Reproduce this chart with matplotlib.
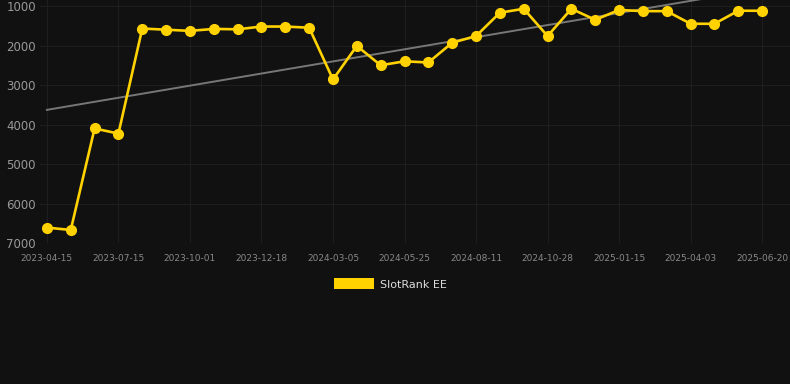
import matplotlib
matplotlib.use("Agg")
import matplotlib.pyplot as plt
from matplotlib.patches import Rectangle
import numpy as np

# rank values, one point per snapshot (evenly spaced on the axis)
ranks = [6610, 6670, 4100, 4230, 1570, 1600, 1630, 1580, 1590, 1520,
         1520, 1550, 2860, 2010, 2500, 2400, 2430, 1930, 1760, 1170,
         1070, 1760, 1070, 1350, 1100, 1130, 1130, 1450, 1450, 1120,
         1120]
tick_labels = ["2023-04-15", "2023-07-15", "2023-10-01", "2023-12-18",
               "2024-03-05", "2024-05-25", "2024-08-11", "2024-10-28",
               "2025-01-15", "2025-04-03", "2025-06-20"]
y_ticks = [1000, 2000, 3000, 4000, 5000, 6000, 7000]

bg = "#111111"
gold = "#FFD200"

x = np.arange(len(ranks))
slope, icpt = np.polyfit(x, ranks, 1)

fig = plt.figure(figsize=(7.9, 3.84), dpi=100, facecolor=bg)
ax = fig.add_axes([40 / 790, 141 / 384, 750 / 790, 243 / 384])
ax.set_facecolor(bg)

ax.plot(x, slope * x + icpt, color="#777777", lw=1.4, zorder=2)
ax.plot(x, ranks, color=gold, lw=1.9, marker="o", ms=7, zorder=3)

ax.set_xlim(-0.29, 31.17)
ax.set_ylim(7000, 848)
ax.set_xticks(x[::3])
ax.set_xticklabels(tick_labels)
ax.set_yticks(y_ticks)

ax.grid(True, color="#1e1e1e", lw=0.8)
ax.set_axisbelow(True)
for s in ax.spines.values():
    s.set_visible(False)
ax.tick_params(axis="x", length=0, colors="#888888", labelsize=6.5, pad=8)
ax.tick_params(axis="y", length=0, colors="#999999", labelsize=8.5, pad=3)

# legend shows a filled box instead of a line
h = Rectangle((0, 0), 1, 1, facecolor=gold, edgecolor="none")
fig.legend([h], ["SlotRank EE"], loc="center", bbox_to_anchor=(0.494, 1 - 284 / 384),
           frameon=False, handlelength=3.6, handleheight=1.1, fontsize=8,
           labelcolor="#dddddd", handletextpad=0.5)

fig.savefig("out.png", dpi=100, facecolor=bg)
